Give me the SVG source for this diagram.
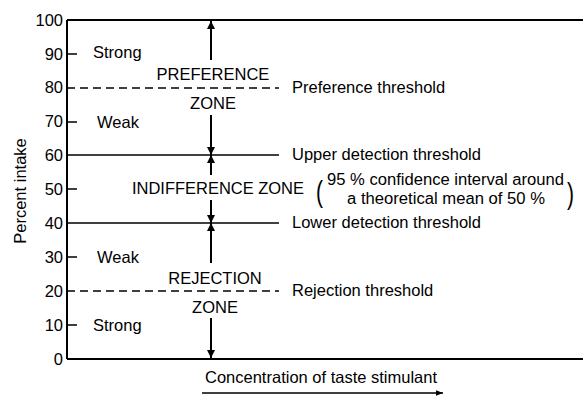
<svg xmlns="http://www.w3.org/2000/svg" width="583" height="397" viewBox="0 0 583 397">
<defs>
<marker id="ah" viewBox="0 0 10 10" refX="10" refY="5" markerWidth="8" markerHeight="8" markerUnits="userSpaceOnUse" orient="auto">
<path d="M0,0 L10,5 L0,10 Z" fill="#000"/>
</marker>
<marker id="ah2" viewBox="0 0 10 10" refX="10" refY="5" markerWidth="7" markerHeight="7" markerUnits="userSpaceOnUse" orient="auto">
<path d="M0,1 L10,5 L0,9 Z" fill="#000"/>
</marker>
</defs>
<style>
text{font-family:"Liberation Sans",Arial,sans-serif;font-size:16.5px;fill:#000}
.r{text-anchor:end}
.m{text-anchor:middle}
.p{font-size:30px}
.s{font-size:16px}
.ln{stroke:#000;stroke-width:1.6;fill:none}
.ax{stroke:#000;stroke-width:2;fill:none}
.ds{stroke:#000;stroke-width:1.6;fill:none;stroke-dasharray:8 5}
.ar{stroke:#000;stroke-width:2;fill:none;marker-end:url(#ah)}
</style>
<rect width="583" height="397" fill="#fff"/>
<g id="axes">
<line class="ax" x1="67" y1="20" x2="67" y2="359"/>
<line class="ax" x1="67" y1="20" x2="583" y2="20"/>
<line class="ax" x1="67" y1="359" x2="583" y2="359"/>
<path class="ln" d="M67,54H77M67,122H77M67,189H77M67,257H77M67,325H77"/>
<text class="r" x="63" y="26">100</text>
<text class="r" x="63" y="60">90</text>
<text class="r" x="63" y="93">80</text>
<text class="r" x="63" y="127">70</text>
<text class="r" x="63" y="161">60</text>
<text class="r" x="63" y="195">50</text>
<text class="r" x="63" y="229">40</text>
<text class="r" x="63" y="263">30</text>
<text class="r" x="63" y="297">20</text>
<text class="r" x="63" y="331">10</text>
<text class="r" x="63" y="365">0</text>
<text class="m" transform="translate(26,191) rotate(-90)">Percent intake</text>
</g>
<g id="thresholds">
<line class="ds" x1="67" y1="88" x2="279" y2="88"/>
<line class="ln" x1="67" y1="155" x2="279" y2="155"/>
<line class="ln" x1="67" y1="223" x2="279" y2="223"/>
<line class="ds" x1="67" y1="291" x2="279" y2="291"/>
<text x="292" y="93">Preference threshold</text>
<text x="292" y="160">Upper detection threshold</text>
<text x="292" y="228">Lower detection threshold</text>
<text x="292" y="296">Rejection threshold</text>
</g>
<g id="connectors">
<line class="ar" x1="211" y1="60" x2="211" y2="21"/>
<line class="ar" x1="211" y1="115" x2="211" y2="155"/>
<line class="ar" x1="211" y1="175" x2="211" y2="155"/>
<line class="ar" x1="211" y1="200" x2="211" y2="223"/>
<line class="ar" x1="211" y1="263" x2="211" y2="223"/>
<line class="ar" x1="211" y1="318" x2="211" y2="358"/>
<line class="ln" x1="202" y1="393" x2="443" y2="393" style="marker-end:url(#ah2)"/>
</g>
<g id="preference">
<text x="93" y="58">Strong</text>
<text class="m" x="213" y="80">PREFERENCE</text>
<text class="m" x="213" y="109">ZONE</text>
<text x="97" y="128">Weak</text>
</g>
<g id="indifference">
<text x="132" y="194" textLength="172" lengthAdjust="spacingAndGlyphs">INDIFFERENCE ZONE</text>
<text class="p" x="0" y="202" transform="translate(316,0) scale(0.7,1)">(</text>
<text class="s" x="327" y="185" textLength="237" lengthAdjust="spacingAndGlyphs">95 % confidence interval around</text>
<text class="s" x="347" y="204" textLength="198" lengthAdjust="spacingAndGlyphs">a theoretical mean of 50 %</text>
<text class="p" x="0" y="204" transform="translate(567,0) scale(0.7,1)">)</text>
</g>
<g id="rejection">
<text x="97" y="263">Weak</text>
<text class="m" x="215" y="284">REJECTION</text>
<text class="m" x="215" y="313">ZONE</text>
<text x="93" y="331">Strong</text>
</g>
<g id="xlabel">
<text x="205" y="383">Concentration of taste stimulant</text>
</g>
</svg>
